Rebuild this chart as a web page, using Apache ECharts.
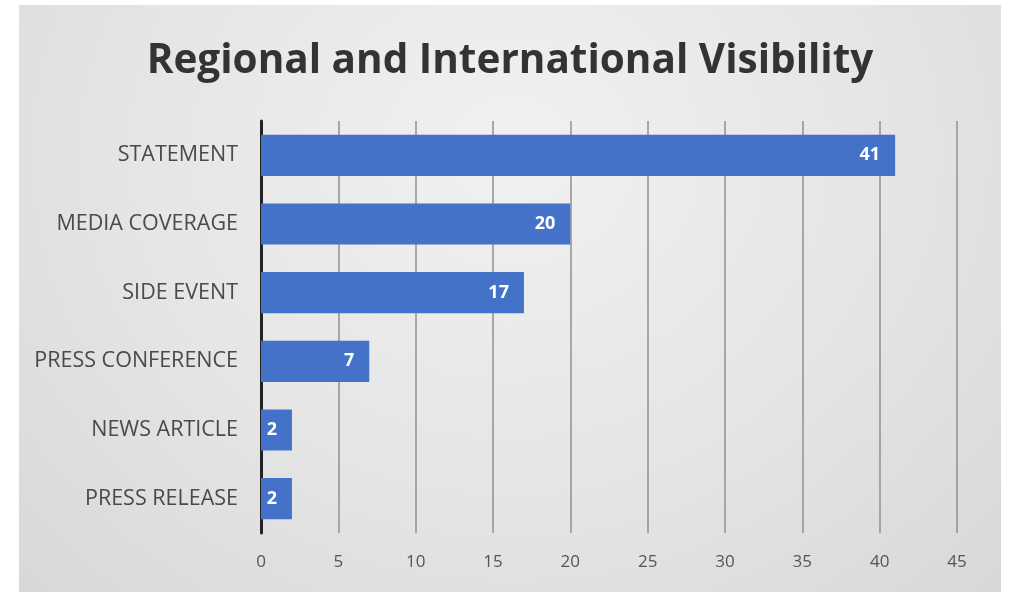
<!DOCTYPE html>
<html>
<head>
<meta charset="utf-8">
<script src="https://cdn.jsdelivr.net/npm/echarts@6/dist/echarts.min.js"></script>
<style>
html,body{margin:0;padding:0;width:1009px;height:592px;background:#ffffff;overflow:hidden;}
#chart{position:absolute;left:19px;top:5px;width:982px;height:587px;
background:radial-gradient(ellipse at 50% 25%, #f1f1f1 0%, #e5e5e5 55%, #d8d8d8 100%);}
</style>
</head>
<body>
<div id="chart"></div>
<script>
const title = 'Regional and International Visibility';
const categories = ['PRESS RELEASE','NEWS ARTICLE','PRESS CONFERENCE','SIDE EVENT','MEDIA COVERAGE','STATEMENT'];
const values = [2, 2, 7, 17, 20, 41];
const axisMin = 0, axisMax = 45, axisStep = 5;

const chart = echarts.init(document.getElementById('chart'), null, {renderer:'canvas'});
chart.setOption({
  backgroundColor: 'transparent',
  animation: false,
  title: {
    text: title, left: 'center', top: 31,
    textStyle: {fontFamily: 'Open Sans', fontWeight: 'bold', fontSize: 40.5, color: '#333333'}
  },
  grid: {left: 242, right: 44, top: 116, bottom: 59, containLabel: false},
  xAxis: {
    type: 'value', min: axisMin, max: axisMax, interval: axisStep,
    axisLine: {show: false}, axisTick: {show: false},
    axisLabel: {fontFamily: 'Open Sans', fontSize: 17, color: '#555555', margin: 21},
    splitLine: {show: true, lineStyle: {color: '#909090', width: 1.5}}
  },
  yAxis: {
    type: 'category', data: categories,
    axisLine: {show: true, lineStyle: {color: '#222222', width: 3}},
    axisTick: {show: false},
    axisLabel: {fontFamily: 'Open Sans', fontSize: 21.5, color: '#4a4a4a', margin: 23}
  },
  series: [{
    type: 'bar', data: values, barWidth: '60%',
    itemStyle: {color: '#4472C8'},
    label: {show: true, position: 'insideRight', offset: [-10, 0], color: '#ffffff',
      fontFamily: 'Open Sans', fontWeight: 'bold', fontSize: 18}
  }]
});
</script>
</body>
</html>
